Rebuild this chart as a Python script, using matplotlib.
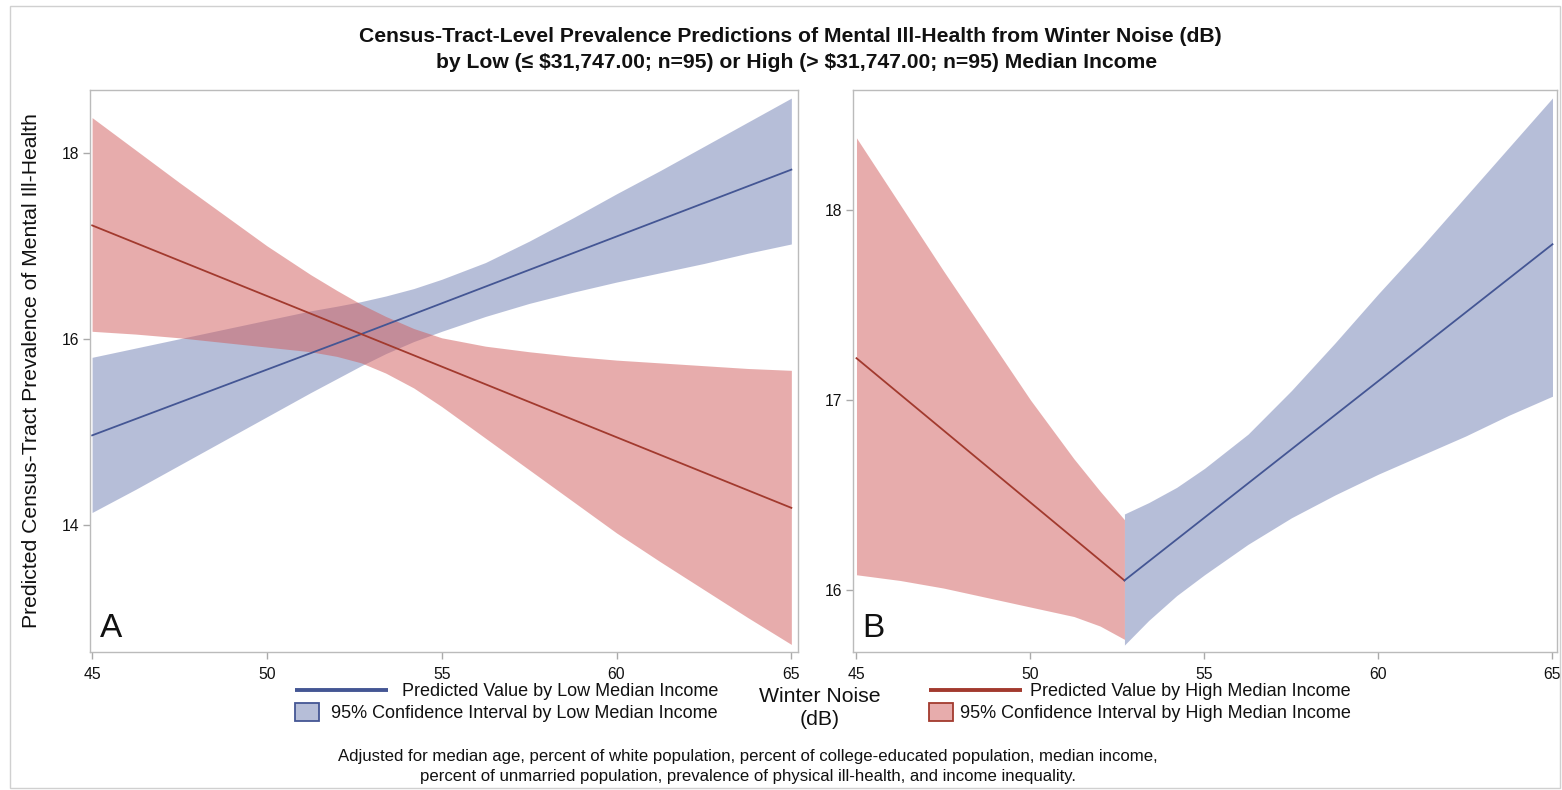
import matplotlib
matplotlib.use("Agg")
import matplotlib.pyplot as plt
from matplotlib.lines import Line2D
from matplotlib.patches import Rectangle

plt.rcParams['font.family'] = ['Liberation Sans', 'DejaVu Sans']

# Winter noise values (dB) at which the 95% confidence limits are given
noise = [45, 46.25, 47.5, 48.75, 50, 51.25, 52.0, 52.7, 53.4, 54.2, 55,
         56.25, 57.5, 58.75, 60, 61.25, 62.5, 63.75, 65]
split_idx = 7  # position of the crossing point (52.7 dB) in `noise`

# 95% confidence limits, low median income
low_upper = [15.80, 15.90, 16.00, 16.10, 16.20, 16.30, 16.35, 16.40, 16.46,
             16.54, 16.64, 16.82, 17.05, 17.30, 17.56, 17.81, 18.07, 18.33,
             18.59]
low_lower = [14.13, 14.38, 14.64, 14.90, 15.16, 15.42, 15.57, 15.71, 15.84,
             15.97, 16.08, 16.24, 16.38, 16.50, 16.61, 16.71, 16.81, 16.92,
             17.02]
# 95% confidence limits, high median income
high_upper = [18.38, 18.03, 17.68, 17.34, 17.00, 16.69, 16.52, 16.37, 16.24,
              16.11, 16.01, 15.92, 15.86, 15.81, 15.77, 15.74, 15.71, 15.68,
              15.66]
high_lower = [16.08, 16.05, 16.01, 15.96, 15.91, 15.86, 15.81, 15.74, 15.63,
              15.47, 15.27, 14.93, 14.59, 14.25, 13.91, 13.60, 13.30, 13.00,
              12.71]

# Predicted values (straight lines): start, crossing point, end
pred_noise = [45, 52.7, 65]
low_pred = [14.96, 16.05, 17.82]
high_pred = [17.22, 16.05, 14.18]

xticks = [45, 50, 55, 60, 65]
yticks_a = [14, 16, 18]
yticks_b = [16, 17, 18]

title_lines = [
    "Census-Tract-Level Prevalence Predictions of Mental Ill-Health from Winter Noise (dB)",
    "by Low (\u2264 \\$31,747.00; n=95) or High (> \\$31,747.00; n=95) Median Income",
]
ylabel = "Predicted Census-Tract Prevalence of Mental Ill-Health"
xlabel = "Winter Noise\n(dB)"
legend_low = ["Predicted Value by Low Median Income",
              "95% Confidence Interval by Low Median Income"]
legend_high = ["Predicted Value by High Median Income",
               "95% Confidence Interval by High Median Income"]
footnote = [
    "Adjusted for median age, percent of white population, percent of college-educated population, median income,",
    "percent of unmarried population, prevalence of physical ill-health, and income inequality.",
]

LOW_FILL, LOW_LINE = "#6F7EB3", "#445694"
HIGH_FILL, HIGH_LINE = "#D05B5B", "#A23A2E"
FRAME = "#BBBBBB"
TEXT = "#111111"

W, H = 1562, 790
fig = plt.figure(figsize=(W / 100, H / 100), dpi=100)


def rect(x0, y0, x1, y1):
    return [x0 / W, 1 - y1 / H, (x1 - x0) / W, (y1 - y0) / H]


def style(ax, xlim, ylim, yticks):
    ax.set_xlim(*xlim)
    ax.set_ylim(*ylim)
    ax.set_xticks(xticks)
    ax.set_yticks(yticks)
    for s in ax.spines.values():
        s.set_color(FRAME)
        s.set_linewidth(1.0)
    ax.tick_params(axis="both", direction="out", length=5, width=1,
                   color="#AAAAAA", labelsize=11.3, labelcolor=TEXT)
    ax.tick_params(axis="x", pad=6)
    ax.tick_params(axis="y", pad=3)


# Panel A: full range for both income groups
axA = fig.add_axes(rect(90, 90, 798, 651.5))
axA.fill_between(noise, low_lower, low_upper, color=LOW_FILL, alpha=0.5, lw=0)
axA.fill_between(noise, high_lower, high_upper, color=HIGH_FILL, alpha=0.5, lw=0)
axA.plot(pred_noise, low_pred, color=LOW_LINE, lw=1.3)
axA.plot(pred_noise, high_pred, color=HIGH_LINE, lw=1.3)
style(axA, (44.94, 65.19), (12.634, 18.677), yticks_a)
axA.text(0.014, 0.026, "A", transform=axA.transAxes, fontsize=24,
         va="baseline", ha="left", color=TEXT)

# Panel B: each group shown on its own side of the crossing point
axB = fig.add_axes(rect(853, 90, 1556.5, 651.5))
axB.fill_between(noise[:split_idx + 1], high_lower[:split_idx + 1],
                 high_upper[:split_idx + 1], color=HIGH_FILL, alpha=0.5, lw=0)
axB.fill_between(noise[split_idx:], low_lower[split_idx:],
                 low_upper[split_idx:], color=LOW_FILL, alpha=0.5, lw=0)
axB.plot(pred_noise[:2], high_pred[:2], color=HIGH_LINE, lw=1.3)
axB.plot(pred_noise[1:], low_pred[1:], color=LOW_LINE, lw=1.3)
style(axB, (44.90, 65.115), (15.676, 18.632), yticks_b)
axB.text(0.013, 0.026, "B", transform=axB.transAxes, fontsize=24,
         va="baseline", ha="left", color=TEXT)

# Titles and axis labels
fig.text(790 / W, 1 - 37 / H, title_lines[0], ha="center", va="center",
         fontsize=15.2, fontweight="bold", color=TEXT)
fig.text(797 / W, 1 - 62 / H, title_lines[1], ha="center", va="center",
         fontsize=15.2, fontweight="bold", color=TEXT)
fig.text(32 / W, 1 - 371 / H, ylabel, rotation=90, ha="center", va="center",
         fontsize=15.2, color=TEXT)
fig.text(820 / W, 1 - 708 / H, xlabel, ha="center", va="center",
         fontsize=15.3, color=TEXT, linespacing=1.3)

# Legends: sample glyph on the left, text right-aligned
def legend_block(x0, x_text_right, line_color, fill_color, labels):
    fig.add_artist(Line2D([x0 / W, (x0 + 93) / W], [1 - 690 / H, 1 - 690 / H],
                          transform=fig.transFigure, color=line_color, lw=2.8,
                          solid_capstyle="butt"))
    fig.add_artist(Rectangle((x0 / W, 1 - 721 / H), 24 / W, 18 / H,
                             transform=fig.transFigure, facecolor=fill_color,
                             alpha=0.5, edgecolor="none"))
    fig.add_artist(Rectangle((x0 / W, 1 - 721 / H), 24 / W, 18 / H,
                             transform=fig.transFigure, facecolor="none",
                             edgecolor=line_color, lw=1.3))
    fig.text(x_text_right / W, 1 - 691 / H, labels[0], ha="right", va="center",
             fontsize=13, color=TEXT)
    fig.text(x_text_right / W, 1 - 713 / H, labels[1], ha="right", va="center",
             fontsize=13, color=TEXT)


legend_block(295, 718, LOW_LINE, LOW_FILL, legend_low)
legend_block(929, 1351, HIGH_LINE, HIGH_FILL, legend_high)

# Footnote
fig.text(748 / W, 1 - 757 / H, footnote[0], ha="center", va="center",
         fontsize=12.1, color=TEXT)
fig.text(748 / W, 1 - 777 / H, footnote[1], ha="center", va="center",
         fontsize=12.1, color=TEXT)

# Outer frame
fig.add_artist(Rectangle((10 / W, 2 / H), (W - 12) / W, (H - 8) / H,
                         transform=fig.transFigure, facecolor="none",
                         edgecolor="#D0D0D0", lw=1))

fig.savefig("out.png", dpi=100)
